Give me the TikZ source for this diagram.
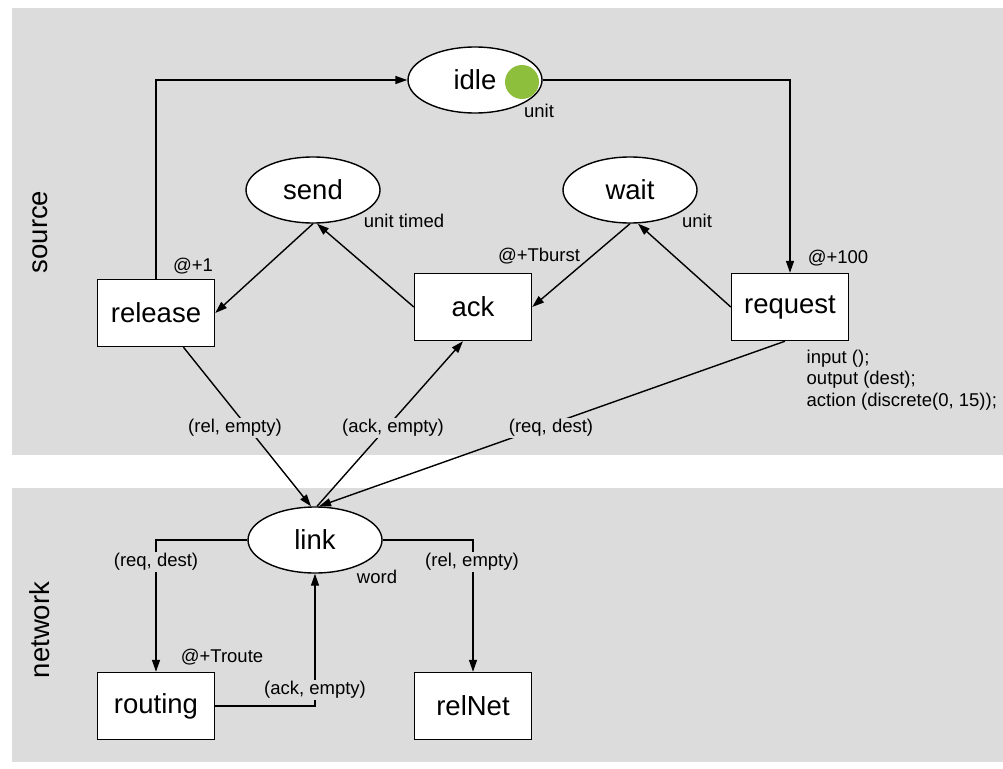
\documentclass[tikz,border=0pt]{standalone}
\usepackage{fontspec}
\setmainfont{Liberation Sans}
\usepackage{xcolor}
\usetikzlibrary{positioning,shapes.geometric,arrows.meta}
\definecolor{panel}{RGB}{220,220,220}
\definecolor{token}{RGB}{141,190,60}

\begin{document}
\begin{tikzpicture}[x=1pt, y=-1pt, node distance={317pt}, line width=1.4pt,
                    >={Triangle[length=12pt,width=8pt]},
                    place/.style = {draw, ellipse, fill=white, inner sep=0pt, minimum width=134pt, minimum height=66pt, font=\fontsize{27.5}{30}\selectfont},
                    trans/.style = {draw, rectangle, fill=white, inner sep=0pt, minimum width=117pt, minimum height=67pt, font=\fontsize{27.5}{30}\selectfont},
                    note/.style = {inner sep=1pt, font=\fontsize{18.5}{21.5}\selectfont},
                    inscr/.style = {note, fill=panel},
                    part/.style = {rotate=90, font=\fontsize{27.5}{30}\selectfont}]
                    \useasboundingbox (0,0) rectangle (1003,768);
                    \fill[panel] (12,8) rectangle (1003,455);
                    \fill[panel] (12,488) rectangle (1003,762);

                    \node[part] (src) at (40,232) {source};
                    \node[part] (net) at (40,630) {network};

                    \node[place] (idle) at (475,80) {idle};
                    \node[circle, fill=token, inner sep=0pt, minimum size=34pt] (tok) at (522,82) {};
                    \node[place] (send) at (313,190) {send};
                    \node[place] (wait) [right of=send] {wait};
                    \node[trans] (release) at (156,313) {release};
                    \node[trans] (ack) at (473,307) {ack};
                    \node[trans] (request) [right of=ack] {request};
                    \node[place] (link) at (315,540) {link};
                    \node[trans] (routing) at (156,706) {routing};
                    \node[trans] (relNet) [right of=routing] {relNet};

                    \node[note] (idleT) at (539,111) {unit};
                    \node[note] (sendT) at (404,221) {unit timed};
                    \node[note] (waitT) at (697,221) {unit};
                    \node[note] (linkT) at (377,577) {word};
                    \node[note] (releaseD) at (193,266) {@+1};
                    \node[note] (ackD) at (539,256) {@+Tburst};
                    \node[note] (requestD) at (838,258) {@+100};
                    \node[note] (routingD) at (222,657) {@+Troute};
                    \node[note, align=left, anchor=north west] (requestC) at (805,348) {input ();\\output (dest);\\action (discrete(0, 15));};

                    \draw[->] (release.north) |- (idle.west);
                    \draw[->] (idle.east) -| (request.north);
                    \draw[->] (send.south) -- (release.east);
                    \draw[->] (ack.west) -- ([xshift=4pt]send.south);
                    \draw[->] (wait.south) -- (ack.east);
                    \draw[->] (request.west) -- ([xshift=8pt]wait.south);

                    \draw[->] (release) -- ([xshift=-4pt]link.north);
                    \draw[->] ([xshift=2pt]link.north) -- ([xshift=-10pt]ack.south);
                    \draw[->] ([xshift=-5pt]request.south) -- ([xshift=4pt]link.north);

                    \draw[->] (link.west) -| (routing.north);
                    \draw[->] (link.east) -| (relNet.north);
                    \draw[->] (routing.east) -| (link.south);

                    \node[inscr] (relIn) at (235,428) {(rel, empty)};
                    \node[inscr] (ackIn) at (393,428) {(ack, empty)};
                    \node[inscr] (reqIn) at (551,428) {(req, dest)};
                    \node[inscr] (reqOut) at (156,562) {(req, dest)};
                    \node[inscr] (relOut) at (472,562) {(rel, empty)};
                    \node[inscr] (ackOut) at (315,690) {(ack, empty)};
                \end{tikzpicture}
\end{document}
